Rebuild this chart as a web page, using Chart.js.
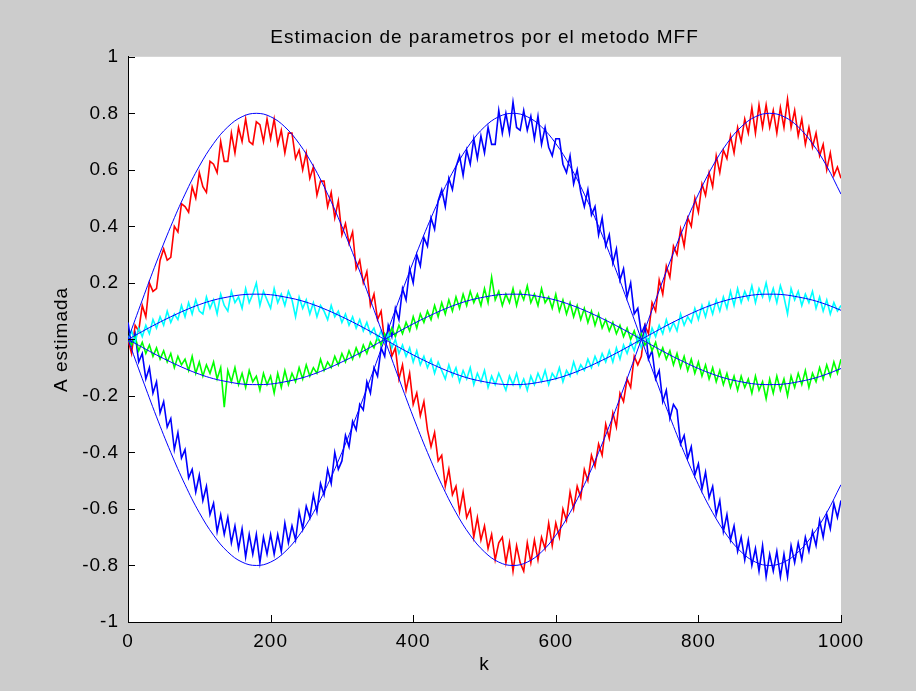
<!DOCTYPE html>
<html>
<head>
<meta charset="utf-8">
<title>Estimacion de parametros por el metodo MFF</title>
<script src="https://cdn.jsdelivr.net/npm/chart.js@4.4.1/dist/chart.umd.min.js"></script>
<style>
  html, body { margin: 0; padding: 0; background: #cccccc; }
  canvas { display: block; }
</style>
</head>
<body>
<canvas id="c" width="916" height="691"></canvas>
<script>
// Sample index of the estimates (every 5th step)
const kNoisy = [
  0,5,10,15,20,25,30,35,40,45,
  50,55,60,65,70,75,80,85,90,95,
  100,105,110,115,120,125,130,135,140,145,
  150,155,160,165,170,175,180,185,190,195,
  200,205,210,215,220,225,230,235,240,245,
  250,255,260,265,270,275,280,285,290,295,
  300,305,310,315,320,325,330,335,340,345,
  350,355,360,365,370,375,380,385,390,395,
  400,405,410,415,420,425,430,435,440,445,
  450,455,460,465,470,475,480,485,490,495,
  500,505,510,515,520,525,530,535,540,545,
  550,555,560,565,570,575,580,585,590,595,
  600,605,610,615,620,625,630,635,640,645,
  650,655,660,665,670,675,680,685,690,695,
  700,705,710,715,720,725,730,735,740,745,
  750,755,760,765,770,775,780,785,790,795,
  800,805,810,815,820,825,830,835,840,845,
  850,855,860,865,870,875,880,885,890,895,
  900,905,910,915,920,925,930,935,940,945,
  950,955,960,965,970,975,980,985,990,995,
  1000
];

// Estimated parameters (noisy)
const estRed = [
  0.00,-0.05,0.05,0.03,0.12,0.08,0.20,0.17,0.18,0.28,
  0.32,0.28,0.29,0.40,0.38,0.48,0.47,0.45,0.54,0.50,
  0.59,0.54,0.52,0.63,0.62,0.59,0.70,0.63,0.63,0.73,
  0.66,0.75,0.70,0.78,0.70,0.69,0.77,0.76,0.70,0.78,
  0.71,0.78,0.69,0.74,0.66,0.73,0.73,0.64,0.67,0.60,
  0.66,0.57,0.61,0.51,0.56,0.56,0.47,0.52,0.43,0.49,
  0.37,0.41,0.34,0.38,0.25,0.28,0.20,0.24,0.12,0.16,
  0.07,0.10,-0.01,0.03,-0.06,-0.03,-0.14,-0.09,-0.18,-0.12,
  -0.23,-0.19,-0.27,-0.22,-0.32,-0.38,-0.33,-0.43,-0.41,-0.52,
  -0.46,-0.55,-0.52,-0.61,-0.54,-0.63,-0.60,-0.70,-0.63,-0.71,
  -0.66,-0.74,-0.69,-0.78,-0.72,-0.70,-0.79,-0.72,-0.82,-0.73,
  -0.79,-0.82,-0.72,-0.79,-0.71,-0.78,-0.70,-0.74,-0.65,-0.73,
  -0.65,-0.70,-0.60,-0.64,-0.54,-0.60,-0.52,-0.56,-0.46,-0.50,
  -0.41,-0.45,-0.37,-0.41,-0.30,-0.35,-0.26,-0.31,-0.19,-0.22,
  -0.14,-0.17,-0.06,-0.09,-0.06,0.05,0.02,0.13,0.10,0.21,
  0.16,0.26,0.22,0.33,0.30,0.39,0.33,0.43,0.40,0.50,
  0.45,0.55,0.51,0.59,0.54,0.65,0.59,0.67,0.64,0.72,
  0.66,0.75,0.70,0.78,0.73,0.82,0.73,0.83,0.75,0.83,
  0.75,0.81,0.73,0.82,0.75,0.85,0.75,0.81,0.72,0.78,
  0.69,0.75,0.68,0.73,0.65,0.69,0.60,0.66,0.58,0.61,
  0.57
];
const estBlue = [
  0.06,-0.02,0.02,-0.08,-0.05,-0.14,-0.10,-0.19,-0.15,-0.26,
  -0.22,-0.31,-0.28,-0.39,-0.33,-0.42,-0.39,-0.49,-0.46,-0.54,
  -0.48,-0.57,-0.52,-0.62,-0.58,-0.68,-0.62,-0.69,-0.63,-0.72,
  -0.66,-0.74,-0.67,-0.77,-0.69,-0.76,-0.69,-0.79,-0.70,-0.76,
  -0.69,-0.76,-0.69,-0.75,-0.65,-0.72,-0.66,-0.71,-0.61,-0.67,
  -0.59,-0.63,-0.55,-0.61,-0.51,-0.55,-0.46,-0.51,-0.40,-0.46,
  -0.43,-0.34,-0.38,-0.29,-0.32,-0.23,-0.25,-0.15,-0.19,-0.10,
  -0.13,-0.03,-0.06,0.05,0.01,0.11,0.07,0.18,0.14,0.25,
  0.20,0.30,0.26,0.36,0.33,0.43,0.39,0.49,0.53,0.47,
  0.57,0.53,0.61,0.65,0.58,0.67,0.62,0.71,0.64,0.72,
  0.66,0.75,0.69,0.69,0.81,0.73,0.80,0.73,0.84,0.75,
  0.74,0.81,0.74,0.79,0.71,0.79,0.69,0.75,0.68,0.65,
  0.71,0.71,0.62,0.59,0.65,0.55,0.60,0.52,0.47,0.53,
  0.44,0.47,0.37,0.43,0.33,0.37,0.27,0.32,0.21,0.25,
  0.15,0.20,0.09,0.11,0.02,0.05,-0.07,-0.04,-0.14,-0.11,
  -0.22,-0.18,-0.28,-0.23,-0.25,-0.37,-0.34,-0.42,-0.38,-0.48,
  -0.44,-0.53,-0.47,-0.56,-0.52,-0.62,-0.57,-0.68,-0.62,-0.71,
  -0.66,-0.75,-0.70,-0.78,-0.71,-0.80,-0.74,-0.82,-0.73,-0.84,
  -0.76,-0.82,-0.75,-0.84,-0.76,-0.84,-0.73,-0.79,-0.72,-0.78,
  -0.70,-0.75,-0.68,-0.73,-0.64,-0.70,-0.62,-0.67,-0.58,-0.63,
  -0.57
];
const estGreen = [
  0.00,-0.02,0.01,-0.04,-0.01,-0.05,-0.02,-0.06,-0.03,-0.07,
  -0.04,-0.08,-0.05,-0.10,-0.06,-0.09,-0.07,-0.11,-0.06,-0.12,
  -0.08,-0.13,-0.09,-0.12,-0.08,-0.14,-0.10,-0.24,-0.11,-0.15,
  -0.10,-0.16,-0.12,-0.17,-0.11,-0.15,-0.13,-0.18,-0.12,-0.16,
  -0.13,-0.19,-0.12,-0.17,-0.11,-0.16,-0.12,-0.15,-0.10,-0.14,
  -0.09,-0.13,-0.10,-0.12,-0.07,-0.11,-0.08,-0.10,-0.06,-0.09,
  -0.05,-0.08,-0.04,-0.07,-0.03,-0.06,-0.02,-0.05,-0.01,-0.03,
  0.01,-0.02,0.02,0.00,0.04,0.01,0.05,0.02,0.06,0.03,
  0.08,0.04,0.09,0.06,0.10,0.07,0.12,0.08,0.13,0.09,
  0.14,0.10,0.15,0.11,0.16,0.12,0.17,0.13,0.16,0.12,
  0.18,0.13,0.22,0.14,0.17,0.12,0.16,0.13,0.18,0.12,
  0.17,0.14,0.19,0.13,0.16,0.12,0.18,0.13,0.15,0.11,
  0.16,0.10,0.14,0.09,0.13,0.08,0.12,0.07,0.11,0.06,
  0.10,0.05,0.09,0.04,0.07,0.03,0.06,0.02,0.05,0.01,
  0.04,0.00,0.03,-0.01,0.02,-0.02,0.00,-0.04,-0.01,-0.06,
  -0.03,-0.07,-0.04,-0.09,-0.05,-0.10,-0.06,-0.11,-0.07,-0.12,
  -0.08,-0.13,-0.09,-0.14,-0.10,-0.15,-0.11,-0.16,-0.12,-0.17,
  -0.13,-0.18,-0.13,-0.17,-0.14,-0.19,-0.13,-0.18,-0.15,-0.21,
  -0.14,-0.19,-0.13,-0.18,-0.14,-0.20,-0.13,-0.17,-0.12,-0.16,
  -0.11,-0.17,-0.12,-0.15,-0.10,-0.14,-0.09,-0.13,-0.08,-0.12,
  -0.07
];
const estCyan = [
  0.00,0.03,-0.01,0.04,0.01,0.05,0.02,0.07,0.04,0.08,
  0.05,0.10,0.06,0.09,0.07,0.12,0.08,0.13,0.09,0.14,
  0.10,0.09,0.15,0.11,0.14,0.09,0.16,0.12,0.10,0.17,
  0.13,0.15,0.11,0.18,0.13,0.16,0.20,0.12,0.17,0.14,
  0.11,0.18,0.13,0.16,0.12,0.17,0.14,0.08,0.15,0.11,
  0.14,0.09,0.13,0.08,0.12,0.10,0.07,0.12,0.08,0.10,
  0.06,0.09,0.05,0.08,0.04,0.07,0.03,0.06,0.02,0.04,
  0.00,0.03,-0.01,0.02,-0.03,0.00,-0.05,-0.02,-0.06,-0.03,
  -0.08,-0.04,-0.09,-0.06,-0.10,-0.07,-0.12,-0.08,-0.11,-0.14,
  -0.09,-0.13,-0.10,-0.15,-0.11,-0.14,-0.10,-0.16,-0.12,-0.15,
  -0.11,-0.17,-0.13,-0.16,-0.12,-0.15,-0.18,-0.13,-0.16,-0.12,
  -0.17,-0.14,-0.18,-0.13,-0.16,-0.12,-0.15,-0.11,-0.16,-0.12,
  -0.14,-0.10,-0.15,-0.11,-0.13,-0.08,-0.12,-0.09,-0.11,-0.07,
  -0.10,-0.06,-0.09,-0.05,-0.08,-0.04,-0.08,-0.03,-0.07,-0.02,
  -0.05,-0.01,-0.04,0.01,-0.03,0.02,-0.01,0.04,0.01,0.05,
  0.02,0.07,0.03,0.06,0.03,0.09,0.05,0.08,0.06,0.11,
  0.07,0.12,0.08,0.13,0.09,0.14,0.10,0.15,0.11,0.17,
  0.12,0.18,0.13,0.17,0.14,0.19,0.13,0.18,0.15,0.20,
  0.14,0.18,0.13,0.19,0.15,0.09,0.18,0.14,0.17,0.12,
  0.16,0.13,0.17,0.11,0.15,0.10,0.14,0.09,0.13,0.10,
  0.12
];

// True parameter trajectories (every 20th step)
const kTrue = [
  0,20,40,60,80,100,120,140,160,180,
  200,220,240,260,280,300,320,340,360,380,
  400,420,440,460,480,500,520,540,560,580,
  600,620,640,660,680,700,720,740,760,780,
  800,820,840,860,880,900,920,940,960,980,
  1000
];
const trueA = [
  0,0.139,0.274,0.40,0.514,0.613,0.693,0.752,0.788,0.80,
  0.788,0.752,0.693,0.613,0.514,0.40,0.274,0.139,0,-0.139,
  -0.274,-0.40,-0.514,-0.613,-0.693,-0.752,-0.788,-0.80,-0.788,-0.752,
  -0.693,-0.613,-0.514,-0.40,-0.274,-0.139,0,0.139,0.274,0.40,
  0.514,0.613,0.693,0.752,0.788,0.80,0.788,0.752,0.693,0.613,
  0.514
];
const trueB = [
  0,-0.139,-0.274,-0.40,-0.514,-0.613,-0.693,-0.752,-0.788,-0.80,
  -0.788,-0.752,-0.693,-0.613,-0.514,-0.40,-0.274,-0.139,0,0.139,
  0.274,0.40,0.514,0.613,0.693,0.752,0.788,0.80,0.788,0.752,
  0.693,0.613,0.514,0.40,0.274,0.139,0,-0.139,-0.274,-0.40,
  -0.514,-0.613,-0.693,-0.752,-0.788,-0.80,-0.788,-0.752,-0.693,-0.613,
  -0.514
];
const trueC = [
  0,0.028,0.055,0.08,0.103,0.123,0.139,0.15,0.158,0.16,
  0.158,0.15,0.139,0.123,0.103,0.08,0.055,0.028,0,-0.028,
  -0.055,-0.08,-0.103,-0.123,-0.139,-0.15,-0.158,-0.16,-0.158,-0.15,
  -0.139,-0.123,-0.103,-0.08,-0.055,-0.028,0,0.028,0.055,0.08,
  0.103,0.123,0.139,0.15,0.158,0.16,0.158,0.15,0.139,0.123,
  0.103
];
const trueD = [
  0,-0.028,-0.055,-0.08,-0.103,-0.123,-0.139,-0.15,-0.158,-0.16,
  -0.158,-0.15,-0.139,-0.123,-0.103,-0.08,-0.055,-0.028,0,0.028,
  0.055,0.08,0.103,0.123,0.139,0.15,0.158,0.16,0.158,0.15,
  0.139,0.123,0.103,0.08,0.055,0.028,0,-0.028,-0.055,-0.08,
  -0.103,-0.123,-0.139,-0.15,-0.158,-0.16,-0.158,-0.15,-0.139,-0.123,
  -0.103
];

// Axis ticks
const xTicks = [0, 200, 400, 600, 800, 1000];
const yTicks = [-1, -0.8, -0.6, -0.4, -0.2, 0, 0.2, 0.4, 0.6, 0.8, 1];

const titleText = 'Estimacion de parametros por el metodo MFF';
const xTitle = 'k';
const yTitle = 'A estimada';

const FONT = { family: '"Liberation Sans", Arial, Helvetica, sans-serif', size: 19, weight: 'normal' };

function pts(ks, vs) { return vs.map((v, i) => ({ x: ks[i], y: v })); }

const estStyle = (color, order) => ({
  borderColor: color, borderWidth: 1.6, pointRadius: 0, tension: 0, order
});
const trueStyle = (order) => ({
  borderColor: '#0000ff', borderWidth: 1, pointRadius: 0, tension: 0.4, order
});

// Figure background, white axes box and inward tick marks
const matlabAxes = {
  id: 'matlabAxes',
  beforeUpdate(chart) { chart.ctx.letterSpacing = '1px'; },
  beforeDraw(chart) {
    const { ctx, chartArea: a } = chart;
    ctx.letterSpacing = '1px';
    ctx.save();
    ctx.fillStyle = '#cccccc';
    ctx.fillRect(0, 0, chart.width, chart.height);
    ctx.fillStyle = '#ffffff';
    ctx.fillRect(a.left, a.top, a.right - a.left, a.bottom - a.top);
    ctx.restore();
  },
  afterDraw(chart) {
    const { ctx, chartArea: a, scales } = chart;
    const len = 7;
    ctx.save();
    ctx.strokeStyle = '#000000';
    ctx.lineWidth = 1;
    ctx.beginPath();
    xTicks.forEach(v => {
      const px = Math.round(scales.x.getPixelForValue(v)) + 0.5;
      ctx.moveTo(px, a.bottom);
      ctx.lineTo(px, a.bottom - len);
    });
    yTicks.forEach(v => {
      const py = Math.round(scales.y.getPixelForValue(v)) + 0.5;
      ctx.moveTo(a.left, py);
      ctx.lineTo(a.left + len, py);
    });
    ctx.stroke();
    ctx.restore();
  }
};

const tickText = v => String(v);

new Chart(document.getElementById('c'), {
  type: 'line',
  data: {
    datasets: [
      { label: 'A1 real', data: pts(kTrue, trueA), ...trueStyle(0) },
      { label: 'A2 real', data: pts(kTrue, trueB), ...trueStyle(0) },
      { label: 'A3 real', data: pts(kTrue, trueC), ...trueStyle(0) },
      { label: 'A4 real', data: pts(kTrue, trueD), ...trueStyle(0) },
      { label: 'A4 estimada', data: pts(kNoisy, estCyan), ...estStyle('#00ffff', 1) },
      { label: 'A3 estimada', data: pts(kNoisy, estGreen), ...estStyle('#00ff00', 2) },
      { label: 'A2 estimada', data: pts(kNoisy, estBlue), ...estStyle('#0000ff', 3) },
      { label: 'A1 estimada', data: pts(kNoisy, estRed), ...estStyle('#ff0000', 4) }
    ]
  },
  options: {
    responsive: false,
    devicePixelRatio: 1,
    animation: false,
    layout: { padding: { top: 0, right: 75, bottom: 0, left: 0 } },
    plugins: {
      legend: { display: false },
      tooltip: { enabled: false },
      title: {
        display: true,
        text: titleText,
        fullSize: false,
        color: '#000000',
        font: FONT,
        padding: { top: 26, bottom: 8 }
      }
    },
    scales: {
      x: {
        type: 'linear',
        min: 0, max: 1000,
        afterBuildTicks: s => { s.ticks = xTicks.map(v => ({ value: v })); },
        afterFit: s => { s.height = 69; },
        grid: { display: false, drawTicks: false },
        border: { display: true, color: '#000000', width: 1 },
        ticks: { color: '#000000', font: FONT, padding: 8, maxRotation: 0, autoSkip: false, callback: tickText },
        title: { display: true, text: xTitle, color: '#000000', font: FONT, padding: { top: 0, bottom: 15 } }
      },
      y: {
        type: 'linear',
        min: -1, max: 1,
        afterBuildTicks: s => { s.ticks = yTicks.map(v => ({ value: v })); },
        afterFit: s => { s.width = 128; },
        grid: { display: false, drawTicks: false },
        border: { display: true, color: '#000000', width: 1 },
        ticks: { color: '#000000', font: FONT, padding: 9, autoSkip: false, callback: tickText },
        title: { display: true, text: yTitle, color: '#000000', font: FONT, padding: { top: 50, bottom: 0 } }
      }
    }
  },
  plugins: [matlabAxes]
});
</script>
</body>
</html>
